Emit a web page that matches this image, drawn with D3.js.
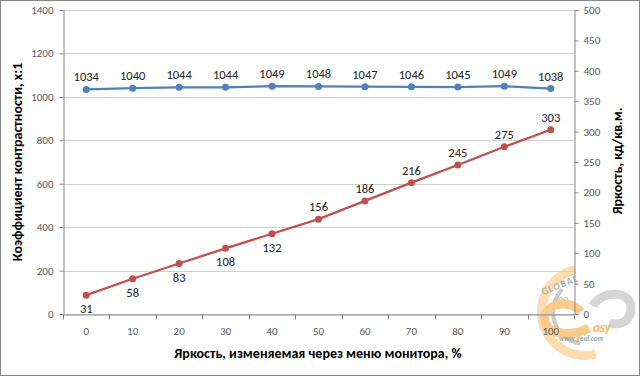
<!DOCTYPE html>
<html>
<head>
<meta charset="utf-8">
<script src="https://cdn.jsdelivr.net/npm/d3@7"></script>
<style>
  body { margin: 0; background: #fff; }
  text { font-family: Carlito, "Open Sans", "Liberation Sans", sans-serif; }
</style>
</head>
<body>
<svg id="chart"></svg>
<script>
const categories = ['0','10','20','30','40','50','60','70','80','90','100']
const contrast = [1034,1040,1044,1044,1049,1048,1047,1046,1045,1049,1038]
const brightness = [31,58,83,108,132,156,186,216,245,275,303]
const leftTicks = [0,200,400,600,800,1000,1200,1400]
const rightTicks = [0,50,100,150,200,250,300,350,400,450,500]
// labels of the red series that sit under the point
const belowIdx = [0,1,2,3,4]

const width = 640
const height = 376
const margin = {left: 63, top: 10, right: 66, bottom: 62}

const svg = d3.select('#chart')
  .attr('width', width)
  .attr('height', height)

// outer frame
svg.append('rect')
  .attr('x', 0.5).attr('y', 0.5)
  .attr('width', width - 1).attr('height', height - 1)
  .attr('fill', '#fff')
  .attr('stroke', '#888')

const xScale = d3.scaleBand()
  .domain(categories)
  .range([margin.left, width - margin.right])

const yLeft = d3.scaleLinear()
  .domain([0, 1400])
  .range([height - margin.bottom, margin.top])

const yRight = d3.scaleLinear()
  .domain([0, 500])
  .range([height - margin.bottom, margin.top])

// watermark (rough)
const wm = svg.append('g').attr('transform', 'translate(585,312)')
wm.append('path')
  .attr('d', d3.arc()({innerRadius: 39, outerRadius: 48, startAngle: Math.PI * 0.92, endAngle: Math.PI * 1.93}))
  .attr('fill', '#fcdcb0')
wm.append('path')
  .attr('d', d3.arc()({innerRadius: 30, outerRadius: 34, startAngle: Math.PI * 1.05, endAngle: Math.PI * 1.75}))
  .attr('fill', '#c9c9c9')
wm.append('text').attr('transform', 'translate(-24,-24) rotate(-22)').attr('text-anchor', 'middle')
  .attr('font-size', 10).attr('font-weight', 'bold').attr('letter-spacing', 1).attr('fill', '#b0b0b0').text('GLOBAL')
wm.append('text').attr('x', -30).attr('y', -10)
  .attr('font-size', 10).attr('font-style', 'italic').attr('font-weight', 'bold').attr('fill', '#c8cad8').text('mo')
wm.append('path')
  .attr('d', 'M8,-6 C16,-22 46,-22 46,-4 C46,10 34,14 24,11')
  .attr('fill', 'none').attr('stroke', '#d6d6d6').attr('stroke-width', 9)
wm.append('path')
  .attr('d', 'M-4,0 C-18,-16 -44,-6 -40,10 C-36,24 -10,24 4,16')
  .attr('fill', 'none').attr('stroke', '#fbcb8e').attr('stroke-width', 9)
wm.append('text').attr('x', 8).attr('y', 20)
  .attr('font-size', 13).attr('font-style', 'italic').attr('font-weight', 'bold').attr('fill', '#f6b868').text('asy')
wm.append('text').attr('x', -26).attr('y', 29)
  .attr('font-size', 7).attr('font-style', 'italic').attr('font-weight', 'bold').attr('fill', '#a0a0a0').text('www.geid.com')

// gridlines
svg.append('g')
  .selectAll('line')
  .data(leftTicks)
  .enter()
  .append('line')
  .attr('x1', margin.left)
  .attr('x2', width - margin.right)
  .attr('y1', d => Math.round(yLeft(d)) + 0.5)
  .attr('y2', d => Math.round(yLeft(d)) + 0.5)
  .attr('stroke', '#d0d0d0')

// axes
const styleAxis = (g) => {
  g.select('.domain').attr('stroke', '#888')
  g.selectAll('.tick line').attr('stroke', '#888')
  g.selectAll('.tick text').attr('fill', '#595959').attr('font-size', 11)
}

svg.append('g')
  .attr('transform', `translate(${margin.left + 0.5},0)`)
  .call(d3.axisLeft(yLeft).tickValues(leftTicks).tickFormat(d3.format('d')).tickSize(4).tickSizeOuter(0).tickPadding(6))
  .call(styleAxis)

svg.append('g')
  .attr('transform', `translate(${width - margin.right + 0.5},0)`)
  .call(d3.axisRight(yRight).tickValues(rightTicks).tickFormat(d3.format('d')).tickSize(4).tickSizeOuter(0).tickPadding(5))
  .call(styleAxis)

const xAxis = svg.append('g')
  .attr('transform', `translate(0,${height - margin.bottom + 0.5})`)
  .call(d3.axisBottom(xScale).tickSize(0).tickPadding(13))
  .call(styleAxis)

// tick marks between categories
const edges = categories.map(c => xScale(c)).concat([width - margin.right])
xAxis.selectAll('.edge')
  .data(edges)
  .enter()
  .append('line')
  .attr('x1', d => Math.round(d) + 0.5)
  .attr('x2', d => Math.round(d) + 0.5)
  .attr('y1', 0)
  .attr('y2', 5)
  .attr('stroke', '#888')

const cx = (d, i) => xScale(categories[i]) + xScale.bandwidth() / 2

// contrast series
const blue = '#4f81bd'
svg.append('path')
  .datum(contrast)
  .attr('fill', 'none')
  .attr('stroke', blue)
  .attr('stroke-width', 2.25)
  .attr('d', d3.line().x(cx).y(d => yLeft(d)))

svg.append('g')
  .selectAll('circle')
  .data(contrast)
  .enter()
  .append('circle')
  .attr('cx', cx)
  .attr('cy', d => yLeft(d))
  .attr('r', 3.5)
  .attr('fill', blue)

svg.append('g')
  .selectAll('text')
  .data(contrast)
  .enter()
  .append('text')
  .attr('x', cx)
  .attr('y', d => yLeft(d) - 8)
  .attr('text-anchor', 'middle')
  .attr('font-size', 12.5)
  .attr('fill', '#222')
  .text(d => d)

// brightness series
const red = '#c0504d'
svg.append('path')
  .datum(brightness)
  .attr('fill', 'none')
  .attr('stroke', red)
  .attr('stroke-width', 2.25)
  .attr('d', d3.line().x(cx).y(d => yRight(d)))

svg.append('g')
  .selectAll('circle')
  .data(brightness)
  .enter()
  .append('circle')
  .attr('cx', cx)
  .attr('cy', d => yRight(d))
  .attr('r', 3.5)
  .attr('fill', red)

svg.append('g')
  .selectAll('text')
  .data(brightness)
  .enter()
  .append('text')
  .attr('x', cx)
  .attr('y', (d, i) => belowIdx.includes(i) ? yRight(d) + 18 : yRight(d) - 8)
  .attr('text-anchor', 'middle')
  .attr('font-size', 12.5)
  .attr('fill', '#222')
  .text(d => d)

// titles
svg.append('text')
  .attr('x', 318)
  .attr('y', 358)
  .attr('text-anchor', 'middle')
  .attr('font-size', 14)
  .attr('font-weight', 'bold')
  .text('Яркость, изменяемая через меню монитора, %')

svg.append('text')
  .attr('transform', 'translate(22,162) rotate(-90)')
  .attr('text-anchor', 'middle')
  .attr('font-size', 14)
  .attr('font-weight', 'bold')
  .text('Коэффициент контрастности, x:1')

svg.append('text')
  .attr('transform', 'translate(622,161) rotate(-90)')
  .attr('text-anchor', 'middle')
  .attr('font-size', 14)
  .attr('font-weight', 'bold')
  .text('Яркость, кд/кв.м.')
</script>
</body>
</html>
